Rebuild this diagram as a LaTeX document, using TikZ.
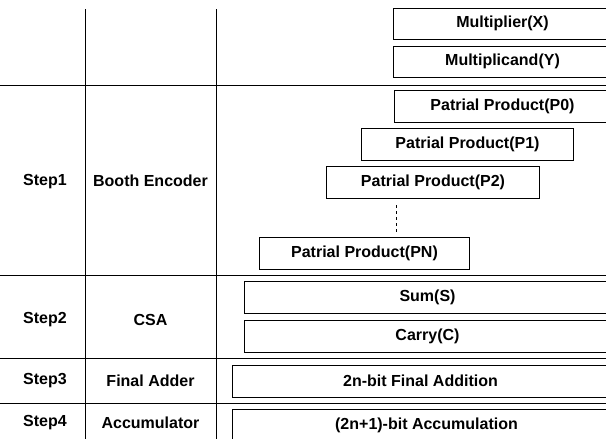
\documentclass[tikz,border=0pt]{standalone}
\usepackage{fontspec}
\setmainfont{Liberation Sans}
\tikzset{
  stage/.style={draw, line width=1pt, anchor=north west, minimum height=31.5pt,
    inner sep=0pt, font=\bfseries\fontsize{16}{18}\selectfont},
  lbl/.style={font=\bfseries\fontsize{16}{18}\selectfont}
}
\begin{document}
\begin{tikzpicture}[x=1pt,y=-1pt,line width=0.8pt]
  \clip (0,0) rectangle (606,439);
  % table lines
  \foreach \y in {85,275,358,403} {
    \draw (0,\y) -- (606,\y);
  }
  \foreach \x in {85,216} {
    \draw (\x,9) -- (\x,439);
  }
  % step labels
  \node[lbl] (s1) at (45,182) {Step1};
  \node[lbl] (s2) at (45,320) {Step2};
  \node[lbl] (s3) at (45,381) {Step3};
  \node[lbl] (s4) at (45,423) {Step4};
  \node[lbl] (u1) at (150.5,181) {Booth Encoder};
  \node[lbl] (u2) at (150.5,320) {CSA};
  \node[lbl] (u3) at (150.5,381) {Final Adder};
  \node[lbl] (u4) at (150.5,423) {Accumulator};
  % operands
  \node[stage, minimum width=218pt] (mx) at (393,7.5) {Multiplier(X)};
  \node[stage, minimum width=218pt] (my) at (393,45.5) {Multiplicand(Y)};
  % partial products
  \node[stage, minimum width=216pt] (p0) at (394,90) {Patrial Product(P0)};
  \node[stage, minimum width=212pt] (p1) at (361,128) {Patrial Product(P1)};
  \node[stage, minimum width=213pt] (p2) at (326,166) {Patrial Product(P2)};
  \node[stage, minimum width=210pt] (pn) at (259,237) {Patrial Product(PN)};
  \coordinate (dtop) at (396,205);
  \coordinate (dbot) at (396,232);
  \draw[dashed, line width=1pt] (dtop) -- (dbot);
  % csa, adder, accumulator
  \node[stage, minimum width=366pt] (sum) at (244,281) {Sum(S)};
  \node[stage, minimum width=366pt] (cry) at (244,320) {Carry(C)};
  \node[stage, minimum width=376pt] (add) at (232,365) {2n-bit Final Addition};
  \node[stage, minimum width=388pt] (acc) at (232,409) {(2n+1)-bit Accumulation};
\end{tikzpicture}
\end{document}
